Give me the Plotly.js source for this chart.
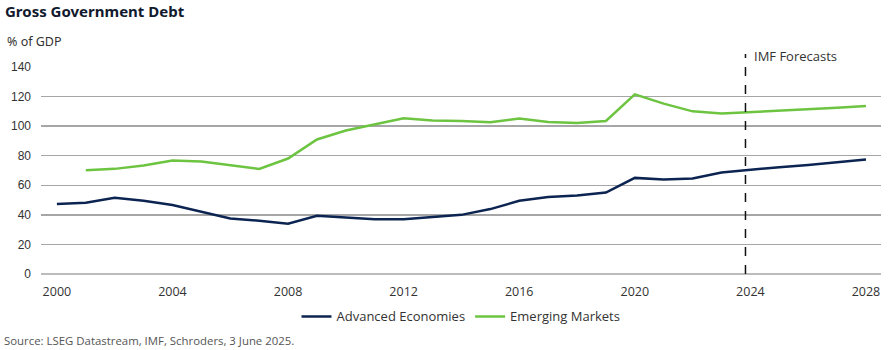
<!DOCTYPE html>
<html>
<head>
<meta charset="utf-8">
<script src="https://cdn.plot.ly/plotly-3.0.1.min.js"></script>
<style>
html,body{margin:0;padding:0;background:#fff;}
#chart{width:890px;height:350px;}
</style>
</head>
<body>
<div id="chart"></div>
<script>
// Data (% of GDP)
const yearsAdv = [2000,2001,2002,2003,2004,2005,2006,2007,2008,2009,2010,2011,2012,2013,2014,2015,2016,2017,2018,2019,2020,2021,2022,2023,2024,2025,2026,2027,2028];
const advancedEconomies = [47.3,48.2,51.5,49.5,46.6,42.0,37.6,36.0,34.0,39.4,38.0,37.1,37.1,38.3,40.0,43.9,49.5,52.0,53.1,55.1,65.0,63.9,64.6,68.7,70.2,72.2,73.8,75.6,77.4];
const yearsEm = [2001,2002,2003,2004,2005,2006,2007,2008,2009,2010,2011,2012,2013,2014,2015,2016,2017,2018,2019,2020,2021,2022,2023,2024,2025,2026,2027,2028];
const emergingMarkets = [70.2,71.1,73.4,76.8,76.1,73.4,71.1,78.1,91.0,97.0,101.3,105.3,103.8,103.5,102.6,105.1,102.8,102.2,103.5,121.5,115.2,110.0,108.5,109.4,110.7,111.6,112.5,113.6];
const xTicks = [2000,2004,2008,2012,2016,2020,2024,2028];
const yTicks = [0,20,40,60,80,100,120,140];
const forecastStart = 2023.83;

const navy = '#0c2451';
const green = '#6cc441';

const traces = [
  {x: yearsAdv, y: advancedEconomies, name: 'Advanced Economies', type: 'scatter', mode: 'lines',
   line: {color: navy, width: 2.5}, hoverinfo: 'x+y'},
  {x: yearsEm, y: emergingMarkets, name: 'Emerging Markets', type: 'scatter', mode: 'lines',
   line: {color: green, width: 2.5}, hoverinfo: 'x+y'}
];

const layout = {
  width: 890, height: 350,
  margin: {l: 41, r: 9, t: 67, b: 76},
  paper_bgcolor: '#ffffff', plot_bgcolor: '#ffffff',
  font: {family: 'Open Sans, sans-serif', color: '#333333'},
  title: {text: '<b>Gross Government Debt</b>', x: 5/890, xanchor: 'left', xref: 'container',
          y: 1 - 12/350, yanchor: 'middle', yref: 'container',
          font: {family: 'Noto Sans, sans-serif', size: 15, color: '#111a2e'}},
  showlegend: true,
  legend: {orientation: 'h', x: 0.5, xanchor: 'center', xref: 'paper', y: -0.205, yanchor: 'middle',
           font: {family: 'Open Sans, sans-serif', size: 13, color: '#333333'},
           itemwidth: 30, tracegroupgap: 0, bgcolor: 'rgba(0,0,0,0)'},
  xaxis: {range: [1999.45, 2028.52], tickvals: xTicks, ticktext: xTicks.map(String),
          showgrid: false, zeroline: false, showline: false, ticks: '',
          ticklabelstandoff: 8,
          tickfont: {family: 'Open Sans, sans-serif', size: 12.5, color: '#333333'}},
  yaxis: {range: [0, 140], tickvals: yTicks, ticktext: yTicks.map(String),
          showgrid: true, gridcolor: '#a6a6a6', gridwidth: 1.5,
          zeroline: false, showline: false, ticks: '', ticklabelstandoff: 9,
          tickfont: {family: 'Liberation Sans, Arial, sans-serif', size: 12, color: '#333333'}},
  shapes: [
    {type: 'line', xref: 'paper', yref: 'paper', x0: 0, x1: 1, y0: 0, y1: 0, layer: 'below',
     line: {color: '#a6a6a6', width: 1.5}},
    {type: 'line', xref: 'x', yref: 'paper', x0: forecastStart, x1: forecastStart, y0: 0, y1: 1.063,
     line: {color: '#111111', width: 1.5, dash: 'dash'}}
  ],
  annotations: [
    {text: 'IMF Forecasts', xref: 'x', yref: 'paper', x: forecastStart, y: 1.055, xanchor: 'left', yanchor: 'middle',
     xshift: 7, showarrow: false, font: {family: 'Open Sans, sans-serif', size: 13, color: '#333333'}},
    {text: '% of GDP', xref: 'paper', yref: 'paper', x: -0.043, y: 1.121, xanchor: 'left', yanchor: 'middle',
     showarrow: false, font: {family: 'Noto Sans, sans-serif', size: 12.5, color: '#333333'}},
    {text: 'Source: LSEG Datastream, IMF, Schroders, 3 June 2025.', xref: 'paper', yref: 'paper',
     x: -0.046, y: -0.32, xanchor: 'left', yanchor: 'middle', showarrow: false,
     font: {family: 'Open Sans, sans-serif', size: 11.4, color: '#555555'}}
  ]
};

Plotly.newPlot('chart', traces, layout, {displayModeBar: false, staticPlot: true});
</script>
</body>
</html>
